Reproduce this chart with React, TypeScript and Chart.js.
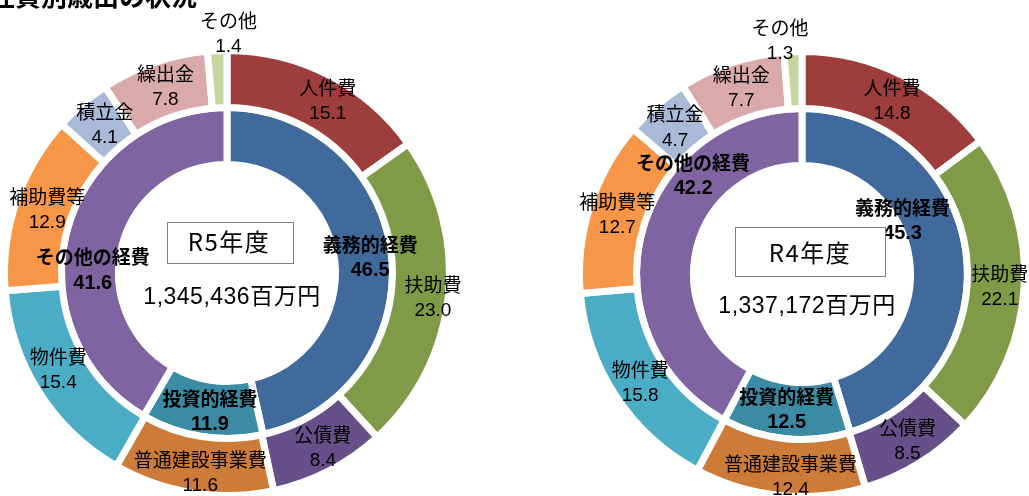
import React, { useEffect, useRef } from 'react';
import { Chart, registerables } from 'chart.js';

Chart.register(...registerables);

// ---- data ----
const pageTitle = '性質別歳出の状況';
const outerCategories = ['人件費', '扶助費', '公債費', '普通建設事業費', '物件費', '補助費等', '積立金', '繰出金', 'その他'];
const innerCategories = ['義務的経費', '投資的経費', 'その他の経費'];

const r5OuterValues = [15.1, 23.0, 8.4, 11.6, 15.4, 12.9, 4.1, 7.8, 1.4];
const r5InnerValues = [46.5, 11.9, 41.6];
const r5YearLabel = 'R5年度';
const r5TotalLabel = '1,345,436百万円';

const r4OuterValues = [14.8, 22.1, 8.5, 12.4, 15.8, 12.7, 4.7, 7.7, 1.3];
const r4InnerValues = [45.3, 12.5, 42.2];
const r4YearLabel = 'R4年度';
const r4TotalLabel = '1,337,172百万円';

// ---- styles ----
const outerColors = ['#9D3E3C', '#809B48', '#674F8A', '#CD7B38', '#4BACC6', '#F79646', '#A9B9D8', '#DAA9A9', '#C4D7A0'];
const innerColors = ['#40699C', '#3A8BA3', '#8064A2'];

// label nudges relative to each arc's centroid [dx, dy]
const r5OuterNudge = [[12, 0], [13, 4], [7, 2], [3, 8], [-5, -7], [4, -1], [4, -1], [2, -3], [10, -45]];
const r5InnerNudge = [[7, 0], [4, 3], [-2, 33]];
const r4OuterNudge = [[3, 0], [4, 2], [3, 2], [8, 10], [0, 2], [0, 0], [0, 0], [1, -2], [-14, -39]];
const r4InnerNudge = [[-35, -33], [-2, -1], [24, -65]];

type CenterCfg = {
  year: string;
  total: string;
  box: [number, number, number, number]; // cx offset, cy offset, w, h
  yearPos: [number, number];
  totalPos: [number, number];
};

const r5Center: CenterCfg = { year: r5YearLabel, total: r5TotalLabel, box: [3, -30.5, 126, 41], yearPos: [2, -31], totalPos: [5, 25] };
const r4Center: CenterCfg = { year: r4YearLabel, total: r4TotalLabel, box: [8, -22.5, 150, 49], yearPos: [8, -21], totalPos: [5, 33] };

const CJK = "'Noto Sans CJK JP', 'Noto Sans', sans-serif";
const NARROW = "'Liberation Sans Narrow', 'Liberation Sans', 'Noto Sans CJK JP', sans-serif";
const LATIN = "'Liberation Sans', 'Noto Sans CJK JP', sans-serif";

const CANVAS = 560;

function makeLabelPlugin(outerNudge: number[][], innerNudge: number[][], center: CenterCfg) {
  return {
    id: 'ringLabels',
    afterDatasetsDraw(chart: any) {
      const ctx: CanvasRenderingContext2D = chart.ctx;
      ctx.save();
      ctx.textAlign = 'center';
      ctx.textBaseline = 'middle';
      ctx.fillStyle = '#000';
      const rings = [
        { names: outerCategories, nudge: outerNudge, bold: false },
        { names: innerCategories, nudge: innerNudge, bold: true },
      ];
      rings.forEach((ring, di) => {
        const meta = chart.getDatasetMeta(di);
        const values = chart.data.datasets[di].data as number[];
        meta.data.forEach((arc: any, i: number) => {
          const p = arc.tooltipPosition(false);
          const [dx, dy] = ring.nudge[i] || [0, 0];
          const x = p.x + dx;
          const y = p.y + dy;
          ctx.font = (ring.bold ? 'bold ' : '') + '19px ' + CJK;
          ctx.fillText(ring.names[i], x, y - 13);
          ctx.font = (ring.bold ? 'bold 20px ' : '19px ') + NARROW;
          ctx.fillText(values[i].toFixed(1), x, y + 13);
        });
      });
      const a0 = chart.getDatasetMeta(0).data[0];
      const cx = a0.x;
      const cy = a0.y;
      const [bx, by, bw, bh] = center.box;
      ctx.strokeStyle = '#7F7F7F';
      ctx.lineWidth = 1;
      ctx.fillStyle = '#fff';
      const left = Math.round(cx + bx - bw / 2) + 0.5;
      const top = Math.round(cy + by - bh / 2) + 0.5;
      ctx.fillRect(left, top, bw, bh);
      ctx.strokeRect(left, top, bw, bh);
      ctx.fillStyle = '#000';
      (ctx as any).letterSpacing = '1.5px';
      ctx.font = '24px ' + CJK;
      ctx.fillText(center.year, cx + center.yearPos[0], cy + center.yearPos[1]);
      (ctx as any).letterSpacing = '0.5px';
      ctx.font = '23px ' + LATIN;
      ctx.fillText(center.total, cx + center.totalPos[0], cy + center.totalPos[1]);
      (ctx as any).letterSpacing = '0px';
      ctx.restore();
    },
  };
}

function Ring(props: {
  outer: number[];
  inner: number[];
  outerNudge: number[][];
  innerNudge: number[][];
  center: CenterCfg;
  cx: number;
  cy: number;
}) {
  const ref = useRef<HTMLCanvasElement | null>(null);
  useEffect(() => {
    if (!ref.current) return;
    const chart = new Chart(ref.current, {
      type: 'doughnut',
      data: {
        labels: outerCategories,
        datasets: [
          { data: props.outer, backgroundColor: outerColors, borderColor: '#ffffff', borderWidth: 7, hoverOffset: 0 } as any,
          { data: props.inner, backgroundColor: innerColors, borderColor: '#ffffff', borderWidth: 7, hoverOffset: 0 } as any,
        ],
      },
      options: {
        responsive: false,
        animation: false,
        events: [],
        radius: 222.5,
        cutout: '48.76%',
        layout: { padding: 0 },
        plugins: { legend: { display: false }, tooltip: { enabled: false } },
      } as any,
      plugins: [makeLabelPlugin(props.outerNudge, props.innerNudge, props.center) as any],
    });
    return () => chart.destroy();
  }, []);
  return (
    <canvas
      ref={ref}
      width={CANVAS}
      height={CANVAS}
      style={{ position: 'absolute', left: props.cx - CANVAS / 2, top: props.cy - CANVAS / 2, width: CANVAS, height: CANVAS }}
    />
  );
}

export default function App() {
  return (
    <div style={{ position: 'fixed', left: 0, top: 0, width: 1029, height: 496, overflow: 'hidden', background: '#fff' }}>
      <Ring outer={r5OuterValues} inner={r5InnerValues} outerNudge={r5OuterNudge} innerNudge={r5InnerNudge} center={r5Center} cx={227} cy={273} />
      <Ring outer={r4OuterValues} inner={r4InnerValues} outerNudge={r4OuterNudge} innerNudge={r4InnerNudge} center={r4Center} cx={802} cy={274} />
      <div
        style={{
          position: 'absolute',
          left: -11,
          top: -18,
          font: "bold 26px 'Noto Sans CJK JP', sans-serif",
          lineHeight: '26px',
          whiteSpace: 'nowrap',
          color: '#000',
        }}
      >
        {pageTitle}
      </div>
    </div>
  );
}
